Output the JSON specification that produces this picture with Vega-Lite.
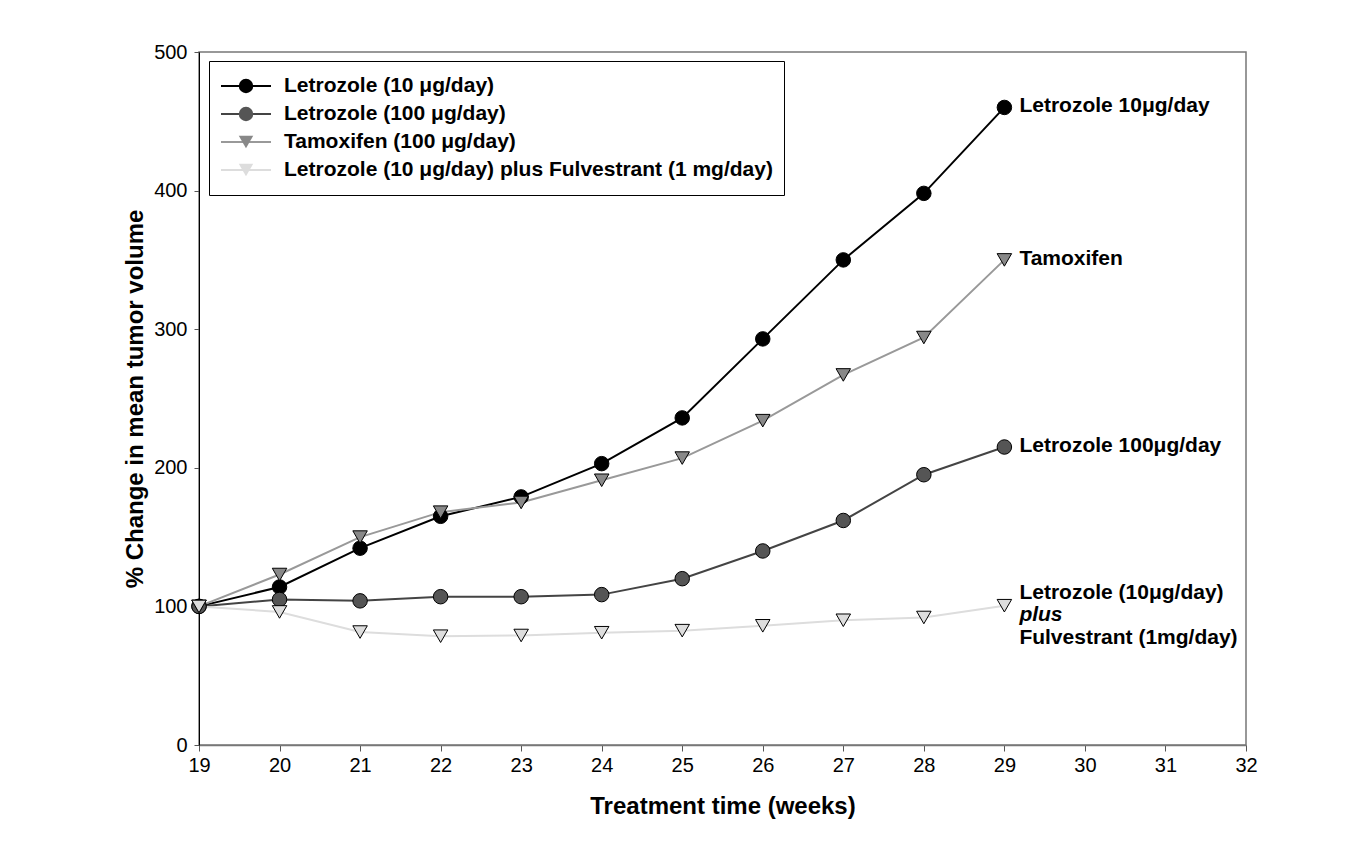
{
  "$schema": "https://vega.github.io/schema/vega-lite/v6.json",
  "width": 1047,
  "height": 693,
  "autosize": {"type": "none"},
  "padding": {"left": 199, "top": 52, "right": 112, "bottom": 99},
  "background": "white",
  "config": {
    "font": "Liberation Sans",
    "view": {"stroke": "#777", "strokeWidth": 1.5},
    "axis": {"grid": false, "labelColor": "black", "titleColor": "black", "labelFont": "Liberation Sans", "titleFont": "Liberation Sans"}
  },
  "datasets": {
    "series": [
      {"series": "Letrozole (10 μg/day)", "week": 19, "value": 100},
      {"series": "Letrozole (10 μg/day)", "week": 20, "value": 114},
      {"series": "Letrozole (10 μg/day)", "week": 21, "value": 142},
      {"series": "Letrozole (10 μg/day)", "week": 22, "value": 165},
      {"series": "Letrozole (10 μg/day)", "week": 23, "value": 179},
      {"series": "Letrozole (10 μg/day)", "week": 24, "value": 203},
      {"series": "Letrozole (10 μg/day)", "week": 25, "value": 236},
      {"series": "Letrozole (10 μg/day)", "week": 26, "value": 293},
      {"series": "Letrozole (10 μg/day)", "week": 27, "value": 350},
      {"series": "Letrozole (10 μg/day)", "week": 28, "value": 398},
      {"series": "Letrozole (10 μg/day)", "week": 29, "value": 460},
      {"series": "Letrozole (100 μg/day)", "week": 19, "value": 100},
      {"series": "Letrozole (100 μg/day)", "week": 20, "value": 105},
      {"series": "Letrozole (100 μg/day)", "week": 21, "value": 104},
      {"series": "Letrozole (100 μg/day)", "week": 22, "value": 107},
      {"series": "Letrozole (100 μg/day)", "week": 23, "value": 107},
      {"series": "Letrozole (100 μg/day)", "week": 24, "value": 108.5},
      {"series": "Letrozole (100 μg/day)", "week": 25, "value": 120},
      {"series": "Letrozole (100 μg/day)", "week": 26, "value": 140},
      {"series": "Letrozole (100 μg/day)", "week": 27, "value": 162},
      {"series": "Letrozole (100 μg/day)", "week": 28, "value": 195},
      {"series": "Letrozole (100 μg/day)", "week": 29, "value": 215},
      {"series": "Tamoxifen (100 μg/day)", "week": 19, "value": 100},
      {"series": "Tamoxifen (100 μg/day)", "week": 20, "value": 123},
      {"series": "Tamoxifen (100 μg/day)", "week": 21, "value": 150},
      {"series": "Tamoxifen (100 μg/day)", "week": 22, "value": 168},
      {"series": "Tamoxifen (100 μg/day)", "week": 23, "value": 175},
      {"series": "Tamoxifen (100 μg/day)", "week": 24, "value": 191},
      {"series": "Tamoxifen (100 μg/day)", "week": 25, "value": 207},
      {"series": "Tamoxifen (100 μg/day)", "week": 26, "value": 234},
      {"series": "Tamoxifen (100 μg/day)", "week": 27, "value": 267},
      {"series": "Tamoxifen (100 μg/day)", "week": 28, "value": 294},
      {"series": "Tamoxifen (100 μg/day)", "week": 29, "value": 350},
      {"series": "Letrozole (10 μg/day) plus Fulvestrant (1 mg/day)", "week": 19, "value": 100},
      {"series": "Letrozole (10 μg/day) plus Fulvestrant (1 mg/day)", "week": 20, "value": 96},
      {"series": "Letrozole (10 μg/day) plus Fulvestrant (1 mg/day)", "week": 21, "value": 81.5},
      {"series": "Letrozole (10 μg/day) plus Fulvestrant (1 mg/day)", "week": 22, "value": 78.5},
      {"series": "Letrozole (10 μg/day) plus Fulvestrant (1 mg/day)", "week": 23, "value": 79},
      {"series": "Letrozole (10 μg/day) plus Fulvestrant (1 mg/day)", "week": 24, "value": 81},
      {"series": "Letrozole (10 μg/day) plus Fulvestrant (1 mg/day)", "week": 25, "value": 82.5},
      {"series": "Letrozole (10 μg/day) plus Fulvestrant (1 mg/day)", "week": 26, "value": 86},
      {"series": "Letrozole (10 μg/day) plus Fulvestrant (1 mg/day)", "week": 27, "value": 90},
      {"series": "Letrozole (10 μg/day) plus Fulvestrant (1 mg/day)", "week": 28, "value": 92},
      {"series": "Letrozole (10 μg/day) plus Fulvestrant (1 mg/day)", "week": 29, "value": 100.5}
    ],
    "labels": [
      {"week": 29, "value": 460, "label": "Letrozole 10μg/day", "part": "main"},
      {"week": 29, "value": 350, "label": "Tamoxifen", "part": "main"},
      {"week": 29, "value": 215, "label": "Letrozole 100μg/day", "part": "main"},
      {"week": 29, "value": 100.5, "label": "Letrozole (10μg/day)", "part": "top"},
      {"week": 29, "value": 100.5, "label": "plus", "part": "mid"},
      {"week": 29, "value": 100.5, "label": "Fulvestrant (1mg/day)", "part": "bottom"}
    ]
  },
  "encoding": {
    "x": {
      "field": "week", "type": "quantitative",
      "scale": {"domain": [19, 32], "nice": false, "zero": false},
      "axis": {
        "values": [19, 20, 21, 22, 23, 24, 25, 26, 27, 28, 29, 30, 31, 32],
        "title": "Treatment time (weeks)",
        "domainColor": "#777", "domainWidth": 1.5, "tickColor": "#555", "tickSize": 6,
        "labelFontSize": 20, "labelPadding": 4, "labelFlush": false, "labelOverlap": false,
        "titleFontSize": 24, "titleFontWeight": "bold", "titlePadding": 19
      }
    },
    "y": {
      "field": "value", "type": "quantitative",
      "scale": {"domain": [0, 500], "nice": false},
      "axis": {
        "values": [0, 100, 200, 300, 400, 500],
        "title": "% Change in mean tumor volume",
        "domainColor": "black", "domainWidth": 1, "tickColor": "#555", "tickSize": 5,
        "labelFontSize": 20, "labelPadding": 7, "labelOverlap": false,
        "titleFontSize": 24, "titleFontWeight": "bold", "titlePadding": 6
      }
    }
  },
  "layer": [
    {
      "data": {"name": "series"},
      "mark": {"type": "line", "strokeWidth": 2},
      "encoding": {
        "color": {
          "field": "series", "type": "nominal",
          "scale": {
            "domain": ["Letrozole (10 μg/day)", "Letrozole (100 μg/day)", "Tamoxifen (100 μg/day)", "Letrozole (10 μg/day) plus Fulvestrant (1 mg/day)"],
            "range": ["#000000", "#444444", "#999999", "#dddddd"]
          },
          "legend": {
            "orient": "none", "legendX": 10, "legendY": 9, "title": null,
            "padding": 11, "clipHeight": 28, "rowPadding": 0,
            "strokeColor": "black", "fillColor": "white",
            "symbolType": "stroke", "symbolSize": 2500, "symbolStrokeWidth": 2,
            "labelFontSize": 21, "labelFontWeight": "bold", "labelColor": "black", "labelFont": "Liberation Sans",
            "labelOffset": 12, "labelLimit": 800
          }
        }
      }
    },
    {
      "data": {"name": "series"},
      "mark": {"type": "point", "filled": true, "size": 210, "stroke": "black", "strokeWidth": 1, "opacity": 1},
      "encoding": {
        "fill": {
          "field": "series", "type": "nominal", "sort": null,
          "scale": {"range": ["#000000", "#555555", "#888888", "#dddddd"]},
          "legend": {
            "orient": "none", "legendX": 10, "legendY": 9, "title": null,
            "padding": 11, "clipHeight": 28, "rowPadding": 0,
            "symbolSize": 210, "symbolStrokeColor": "black", "symbolStrokeWidth": 1, "symbolOffset": 16,
            "labelExpr": "''", "labelFontSize": 20
          }
        },
        "shape": {
          "field": "series", "type": "nominal", "sort": null,
          "scale": {"range": ["circle", "circle", "triangle-down", "triangle-down"]},
          "legend": {
            "orient": "none", "legendX": 10, "legendY": 9, "title": null,
            "padding": 11, "clipHeight": 28, "rowPadding": 0,
            "symbolSize": 210, "symbolStrokeColor": "black", "symbolStrokeWidth": 1, "symbolOffset": 16,
            "labelExpr": "''", "labelFontSize": 20
          }
        }
      }
    },
    {
      "data": {"name": "labels"},
      "transform": [{"filter": "datum.part === 'main'"}],
      "mark": {"type": "text", "align": "left", "baseline": "middle", "dx": 15, "dy": -1, "fontSize": 21, "fontWeight": "bold", "font": "Liberation Sans", "color": "black"},
      "encoding": {"text": {"field": "label"}}
    },
    {
      "data": {"name": "labels"},
      "transform": [{"filter": "datum.part === 'top'"}],
      "mark": {"type": "text", "align": "left", "baseline": "middle", "dx": 15, "dy": -12.5, "fontSize": 21, "fontWeight": "bold", "font": "Liberation Sans", "color": "black"},
      "encoding": {"text": {"field": "label"}}
    },
    {
      "data": {"name": "labels"},
      "transform": [{"filter": "datum.part === 'mid'"}],
      "mark": {"type": "text", "align": "left", "baseline": "middle", "dx": 15, "dy": 9.5, "fontSize": 21, "fontWeight": "bold", "fontStyle": "italic", "font": "Liberation Sans", "color": "black"},
      "encoding": {"text": {"field": "label"}}
    },
    {
      "data": {"name": "labels"},
      "transform": [{"filter": "datum.part === 'bottom'"}],
      "mark": {"type": "text", "align": "left", "baseline": "middle", "dx": 15, "dy": 32.5, "fontSize": 21, "fontWeight": "bold", "font": "Liberation Sans", "color": "black"},
      "encoding": {"text": {"field": "label"}}
    }
  ]
}
